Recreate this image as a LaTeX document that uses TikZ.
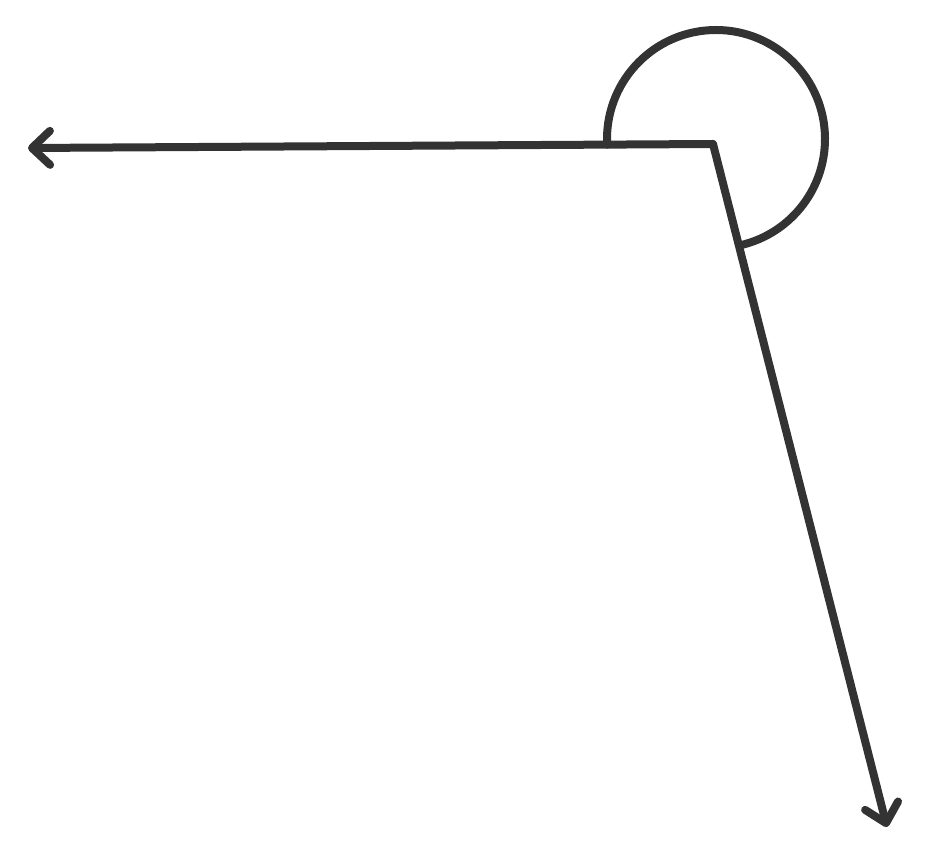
\documentclass[tikz,border=0pt]{standalone}
\usetikzlibrary{arrows.meta}
\begin{document}
\begin{tikzpicture}[x=0.5pt,y=-0.5pt,
  ray/.style={draw=black!80, line width=4pt, line cap=round, line join=round,
    -{Straight Barb[length=9pt,width=17pt,round]}},
  anglearc/.style={draw=black!80, line width=4pt, line cap=round}]
\useasboundingbox (0,0) rectangle (925,849);
\coordinate (O) at (713,144);
\coordinate (A) at (28,148);
\coordinate (B) at (887,827);
\coordinate (C) at (716,139);
\draw[ray] (O) -- (A);
\draw[ray] (O) -- (B);
\draw[anglearc] ([shift={(177:109)}]C) arc[start angle=177, end angle=437, radius=109];
\end{tikzpicture}
\end{document}
